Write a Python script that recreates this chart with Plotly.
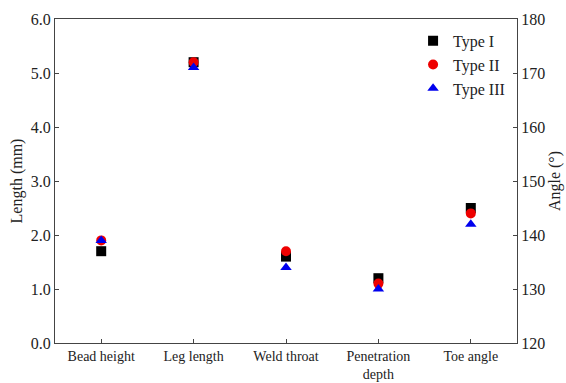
import plotly.graph_objects as go

categories = ["Bead height", "Leg length", "Weld throat", "Penetration<br>depth", "Toe angle"]
length_cats = categories[:4]
angle_cat = categories[4:]

type1_len = [1.7, 5.2, 1.6, 1.2]
type2_len = [1.9, 5.2, 1.7, 1.1]
type3_len = [1.9, 5.1, 1.4, 1.0]

type1_ang = [145]
type2_ang = [144]
type3_ang = [142]

series = [
    ("Type I", type1_len, type1_ang, "square", "#000000"),
    ("Type II", type2_len, type2_ang, "circle", "#ee0000"),
    ("Type III", type3_len, type3_ang, "triangle-up", "#0000ee"),
]

fig = go.Figure()
for name, lv, av, sym, col in series:
    fig.add_trace(go.Scatter(x=length_cats, y=lv, mode="markers", name=name,
                             legendgroup=name,
                             marker=dict(symbol=sym, color=col, size=10)))
    fig.add_trace(go.Scatter(x=angle_cat, y=av, mode="markers", name=name,
                             legendgroup=name, showlegend=False, yaxis="y2",
                             marker=dict(symbol=sym, color=col, size=10)))

font = dict(family="Liberation Serif, Times New Roman, serif", size=16, color="#222")
fig.update_layout(
    width=566, height=383,
    margin=dict(l=55, r=49, t=19, b=40),
    plot_bgcolor="white", paper_bgcolor="white",
    font=font,
    showlegend=True,
    legend=dict(x=0.985, y=0.985, xanchor="right", yanchor="top",
                bgcolor="rgba(0,0,0,0)", font=dict(size=16),
                itemwidth=30, tracegroupgap=0),
    xaxis=dict(type="category", categoryorder="array", categoryarray=categories,
               range=[-0.5, 4.5], showline=True, linecolor="#444", linewidth=1,
               mirror=True, ticks="inside", ticklen=4, tickcolor="#444",
               showgrid=False, zeroline=False, tickfont=dict(size=14),
               automargin=False),
    yaxis=dict(range=[0, 6], dtick=1, tickformat=".1f", showline=True,
               linecolor="#444", linewidth=1, ticks="inside", ticklen=4,
               tickcolor="#444", showgrid=False, zeroline=False,
               tickfont=dict(size=16), automargin=False,
               title=dict(text="Length (mm)", standoff=4, font=dict(size=16))),
    yaxis2=dict(range=[120, 180], dtick=10, overlaying="y", side="right",
                showline=True, linecolor="#444", linewidth=1, ticks="inside",
                ticklen=4, tickcolor="#444", showgrid=False, zeroline=False,
                tickfont=dict(size=16), automargin=False,
                title=dict(text="Angle (°)", standoff=4, font=dict(size=16))),
)

fig.write_html("out.html")
